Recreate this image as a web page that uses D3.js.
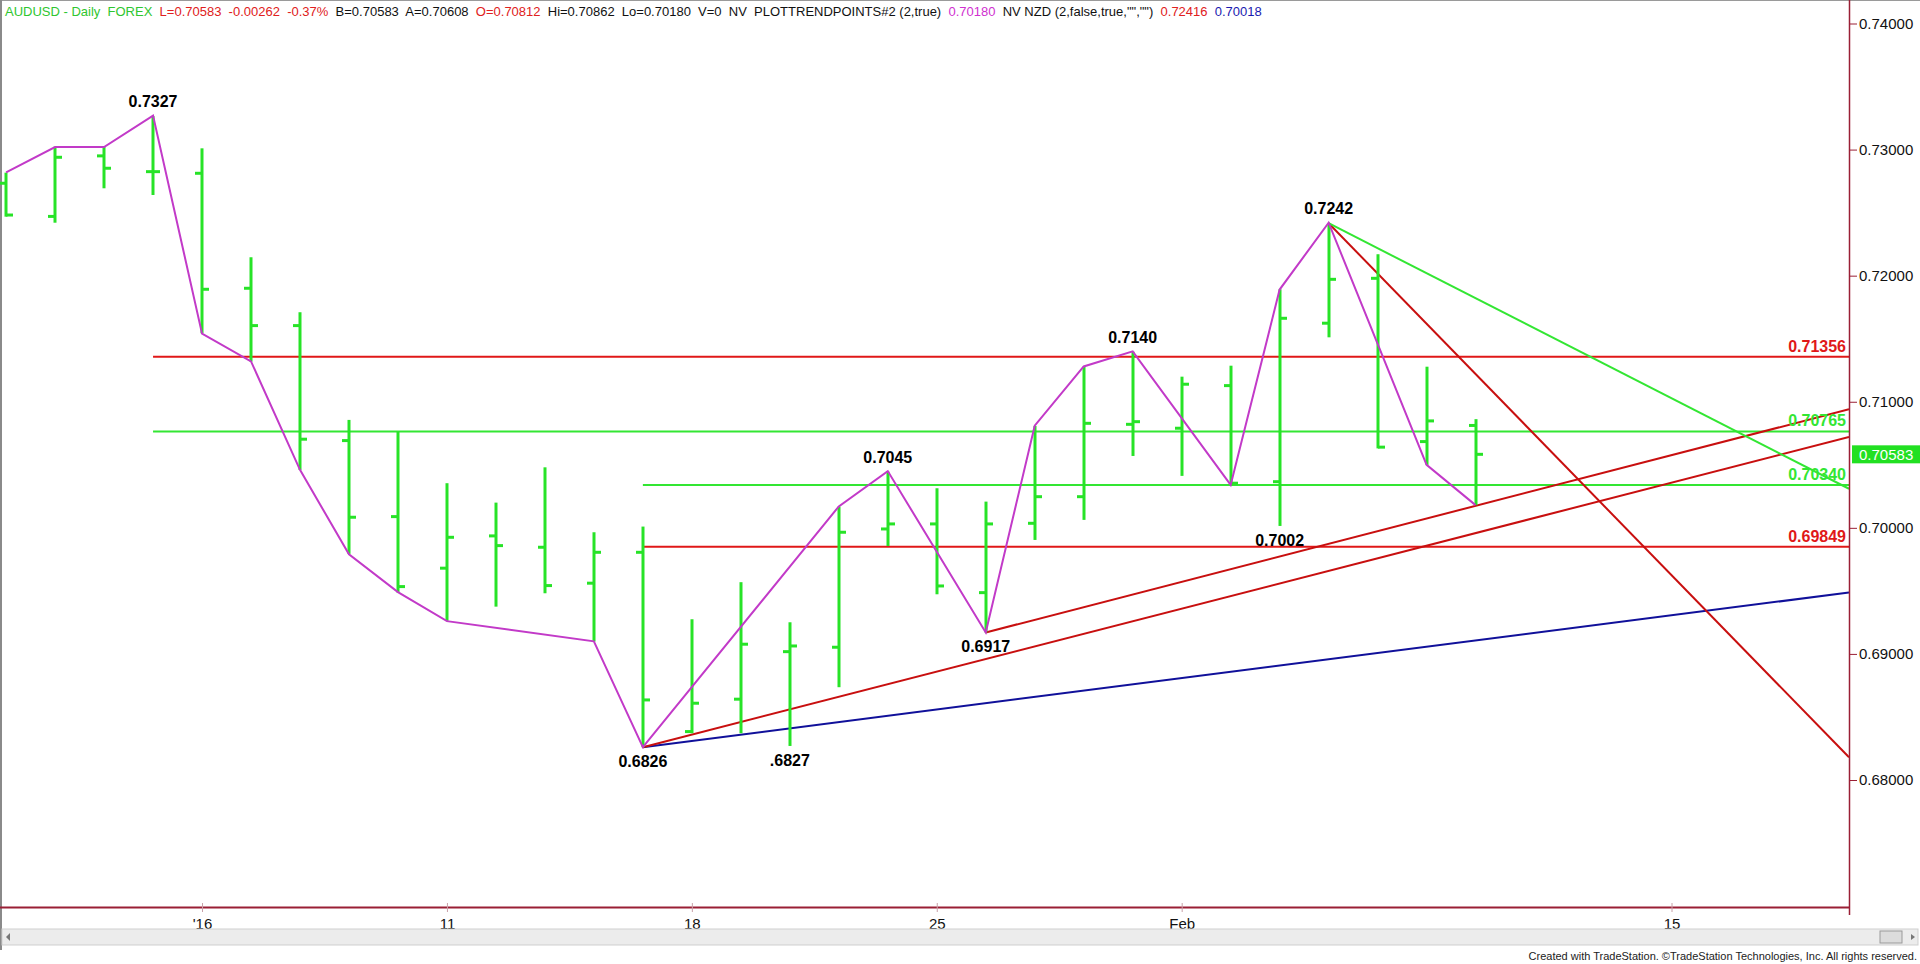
<!DOCTYPE html>
<html>
<head>
<meta charset="utf-8">
<script src="https://cdn.jsdelivr.net/npm/d3@7"></script>
<style>
  html, body { margin: 0; padding: 0; background: #ffffff; overflow: hidden; }
  svg { display: block; font-family: "Liberation Sans", Arial, sans-serif; }
</style>
</head>
<body>
<svg id="chart" width="1920" height="964"></svg>
<script>
// ---------------- DATA ----------------
const dates = ["Dec 28","Dec 29","Dec 30","Dec 31","Jan 4","Jan 5","Jan 6","Jan 7","Jan 8",
  "Jan 11","Jan 12","Jan 13","Jan 14","Jan 15","Jan 18","Jan 19","Jan 20","Jan 21","Jan 22",
  "Jan 25","Jan 26","Jan 27","Jan 28","Jan 29","Feb 1","Feb 2","Feb 3","Feb 4","Feb 5","Feb 8","Feb 9"];
const opens  = [0.72733,0.72470,0.72950,0.72825,0.72812,0.71900,0.71604,0.70692,0.70089,
  0.69680,0.69936,0.69846,0.69561,0.69806,0.68384,0.68641,0.69018,0.69053,0.69991,
  0.70031,0.69486,0.70036,0.70247,0.70821,0.70790,0.71128,0.70366,0.71623,0.71979,0.70684,0.70812];
const highs  = [0.72817,0.73023,0.73023,0.73266,0.73010,0.72146,0.71710,0.70856,0.70763,
  0.70354,0.70200,0.70480,0.69965,0.70010,0.69275,0.69569,0.69251,0.70168,0.70446,
  0.70314,0.70208,0.70808,0.71278,0.71397,0.71199,0.71286,0.71892,0.72416,0.72170,0.71278,0.70862];
const lows   = [0.72468,0.72420,0.72693,0.72640,0.71543,0.71318,0.70459,0.69793,0.69486,
  0.69262,0.69375,0.69481,0.69098,0.68260,0.68371,0.68371,0.68270,0.68736,0.69856,
  0.69473,0.69170,0.69904,0.70063,0.70570,0.70412,0.70340,0.70015,0.71511,0.70630,0.70499,0.70180];
const closes = [0.72481,0.72939,0.72852,0.72825,0.71892,0.71604,0.70703,0.70084,0.69534,
  0.69925,0.69859,0.69542,0.69806,0.68635,0.68609,0.69077,0.69063,0.69965,0.70031,
  0.69539,0.70031,0.70247,0.70829,0.70842,0.71139,0.70354,0.71662,0.71971,0.70640,0.70848,0.70583];

// zig-zag (PLOTTRENDPOINTS) vertices: bar index and price
const zigIndex = [0,1,2,3,4,5,6,7,8,9,12,13,17,18,20,21,22,23,25,26,27,29,30];
const zigValue = [0.7282,0.7302,0.7302,0.7327,0.7154,0.7132,0.7046,0.6979,0.6949,0.6926,0.6910,
  0.6826,0.7017,0.7045,0.6917,0.7081,0.7128,0.7140,0.7034,0.7189,0.7242,0.7050,0.7018];

// pivot labels
const pivotIndex = [3, 13, 16, 18, 20, 23, 26, 27];
const pivotText  = ["0.7327","0.6826",".6827","0.7045","0.6917","0.7140","0.7002","0.7242"];
const pivotValue = [0.73266,0.68260,0.68270,0.70446,0.69170,0.71397,0.70015,0.72416];
const pivotSide  = ["above","below","below","above","below","above","below","above"];

// horizontal levels
const levelValue = [0.71356, 0.70765, 0.70340, 0.69849];
const levelText  = ["0.71356","0.70765","0.70340","0.69849"];
const levelStart = [3, 3, 13, 13];
const levelKind  = ["red","green","green","red"];

// trend lines: start bar index, start price, price at right edge of plot
const trendStart    = [13, 13, 20, 27, 27];
const trendStartVal = [0.6826, 0.6826, 0.6917, 0.72416, 0.72416];
const trendEndVal   = [0.69487, 0.7072, 0.7094, 0.6818, 0.7031];
const trendKind     = ["blue","red","red","red","green"];

// axes
const yTicks = [0.68, 0.69, 0.70, 0.71, 0.72, 0.73, 0.74];
const xTickIndex = [4, 9, 14, 19, 24, 34];
const xTickLabel = ["'16", "11", "18", "25", "Feb", "15"];

const lastPrice = 0.70583;

const headerParts = [
  ["AUDUSD - Daily  FOREX", "green"],
  ["L=0.70583  -0.00262  -0.37%", "red"],
  ["B=0.70583  A=0.70608", "black"],
  ["O=0.70812", "red"],
  ["Hi=0.70862  Lo=0.70180  V=0  NV  PLOTTRENDPOINTS#2 (2,true)", "black"],
  ["0.70180", "magenta"],
  ["NV NZD (2,false,true,\"\",\"\")", "black"],
  ["0.72416", "red"],
  ["0.70018", "blue"]
];

// ---------------- STYLE ----------------
const COL = {
  bar: "#27e327",
  green: "#33e633",
  red: "#e01818",
  trendRed: "#c80f0f",
  blue: "#10109a",
  magenta: "#c23ac8",
  axis: "#9a1f35",
  headerGreen: "#2fc62f",
  headerRed: "#e02020",
  headerMagenta: "#d030d0",
  headerBlue: "#1a1ab0"
};
const headerColor = { green: COL.headerGreen, red: COL.headerRed, black: "#111", magenta: COL.headerMagenta, blue: COL.headerBlue };

const W = 1920, H = 964;
const plotRight = 1849, plotBottom = 907;

const svg = d3.select("#chart");

const x = d3.scaleLinear().domain([0, 34]).range([6.1, 1671.5]);
const y = d3.scaleLinear().domain([0.68, 0.74]).range([780, 23.5]);
const rightIndex = x.invert(plotRight);

// clip
svg.append("defs").append("clipPath").attr("id", "plotclip")
  .append("rect").attr("x", 0).attr("y", 0).attr("width", plotRight).attr("height", plotBottom);

// frame
svg.append("line").attr("x1", 0).attr("x2", W).attr("y1", 0.5).attr("y2", 0.5).attr("stroke", "#9a9a9a");
svg.append("line").attr("x1", 1).attr("x2", 1).attr("y1", 0).attr("y2", 950).attr("stroke", "#8a8a8a").attr("stroke-width", 2);

const plot = svg.append("g").attr("clip-path", "url(#plotclip)");

// horizontal levels
levelValue.forEach((v, i) => {
  const c = levelKind[i] === "red" ? COL.red : COL.green;
  plot.append("line")
    .attr("x1", x(levelStart[i])).attr("x2", plotRight)
    .attr("y1", y(v)).attr("y2", y(v))
    .attr("stroke", c).attr("stroke-width", 2);
});

// trend lines
trendStart.forEach((s, i) => {
  const c = trendKind[i] === "blue" ? COL.blue : trendKind[i] === "green" ? COL.green : COL.trendRed;
  plot.append("line")
    .attr("x1", x(s)).attr("y1", y(trendStartVal[i]))
    .attr("x2", x(rightIndex)).attr("y2", y(trendEndVal[i]))
    .attr("stroke", c).attr("stroke-width", 2);
});

// OHLC bars
const bars = plot.append("g");
dates.forEach((d, i) => {
  const cx = Math.round(x(i));
  bars.append("line").attr("x1", cx).attr("x2", cx)
    .attr("y1", y(highs[i])).attr("y2", y(lows[i]))
    .attr("stroke", COL.bar).attr("stroke-width", 3);
  bars.append("line").attr("x1", cx - 7).attr("x2", cx)
    .attr("y1", y(opens[i])).attr("y2", y(opens[i]))
    .attr("stroke", COL.bar).attr("stroke-width", 3);
  bars.append("line").attr("x1", cx).attr("x2", cx + 7)
    .attr("y1", y(closes[i])).attr("y2", y(closes[i]))
    .attr("stroke", COL.bar).attr("stroke-width", 3);
});

// zigzag
const zig = d3.line().x(d => x(d[0])).y(d => y(d[1]));
plot.append("path")
  .datum(zigIndex.map((k, i) => [k, zigValue[i]]))
  .attr("d", zig).attr("fill", "none")
  .attr("stroke", COL.magenta).attr("stroke-width", 2);

// pivot labels
pivotIndex.forEach((k, i) => {
  const yy = y(pivotValue[i]) + (pivotSide[i] === "above" ? -9 : 20);
  svg.append("text").attr("x", x(k)).attr("y", yy)
    .attr("text-anchor", "middle").attr("font-size", 16).attr("font-weight", "bold")
    .attr("fill", "#000").text(pivotText[i]);
});

// level labels
levelValue.forEach((v, i) => {
  const c = levelKind[i] === "red" ? COL.red : COL.green;
  svg.append("text").attr("x", plotRight - 3).attr("y", y(v) - 5)
    .attr("text-anchor", "end").attr("font-size", 16).attr("font-weight", "bold")
    .attr("fill", c).text(levelText[i]);
});

// right axis
svg.append("line").attr("x1", plotRight + 0.5).attr("x2", plotRight + 0.5)
  .attr("y1", 0).attr("y2", plotBottom + 8).attr("stroke", COL.axis).attr("stroke-width", 1.5);
const yAxis = d3.axisRight(y).tickValues(yTicks).tickFormat(d3.format(".5f")).tickSize(8).tickPadding(2);
const ya = svg.append("g").attr("transform", `translate(${plotRight},0)`).call(yAxis);
ya.select(".domain").remove();
ya.selectAll(".tick line").attr("stroke", COL.axis);
ya.selectAll(".tick text").attr("font-size", 15).attr("fill", "#111")
  .attr("font-family", "'Liberation Sans', Arial, sans-serif");

// last price box
svg.append("rect").attr("x", plotRight + 3).attr("y", y(lastPrice) - 9)
  .attr("width", W - plotRight - 3).attr("height", 18).attr("fill", "#22e022");
svg.append("text").attr("x", plotRight + 10).attr("y", y(lastPrice) + 5.5)
  .attr("font-size", 15).attr("fill", "#ffffff").text(d3.format(".5f")(lastPrice));

// bottom axis
svg.append("line").attr("x1", 0).attr("x2", plotRight + 1)
  .attr("y1", plotBottom + 0.5).attr("y2", plotBottom + 0.5).attr("stroke", COL.axis).attr("stroke-width", 2);
const xAxis = d3.axisBottom(x).tickValues(xTickIndex).tickFormat((d, i) => xTickLabel[i]).tickSize(5).tickPadding(6);
const xa = svg.append("g").attr("transform", `translate(0,${plotBottom})`).call(xAxis);
xa.select(".domain").remove();
xa.selectAll(".tick line").attr("stroke", "#c8a0a8").attr("y1", -4);
xa.selectAll(".tick text").attr("font-size", 15).attr("fill", "#111")
  .attr("font-family", "'Liberation Sans', Arial, sans-serif");

// scrollbar
svg.append("rect").attr("x", 2).attr("y", 929).attr("width", W - 4).attr("height", 16)
  .attr("fill", "#ececec").attr("stroke", "#cfcfcf");
svg.append("path").attr("d", "M10,933 L6,937 L10,941 Z").attr("fill", "#777");
svg.append("rect").attr("x", 1880).attr("y", 931).attr("width", 22).attr("height", 12)
  .attr("fill", "#dcdcdc").attr("stroke", "#9a9a9a");
svg.append("path").attr("d", "M1911,934 L1915,937 L1911,940 Z").attr("fill", "#777");

// footer
svg.append("text").attr("x", W - 3).attr("y", 960).attr("text-anchor", "end")
  .attr("font-size", 11).attr("fill", "#222")
  .text("Created with TradeStation. \u00A9TradeStation Technologies, Inc. All rights reserved.");

// header
const header = svg.append("text").attr("x", 5).attr("y", 16).attr("font-size", 13)
  .style("white-space", "pre");
headerParts.forEach((p, i) => {
  header.append("tspan").attr("fill", headerColor[p[1]])
    .text((i === 0 ? "" : "  ") + p[0]);
});
</script>
</body>
</html>
